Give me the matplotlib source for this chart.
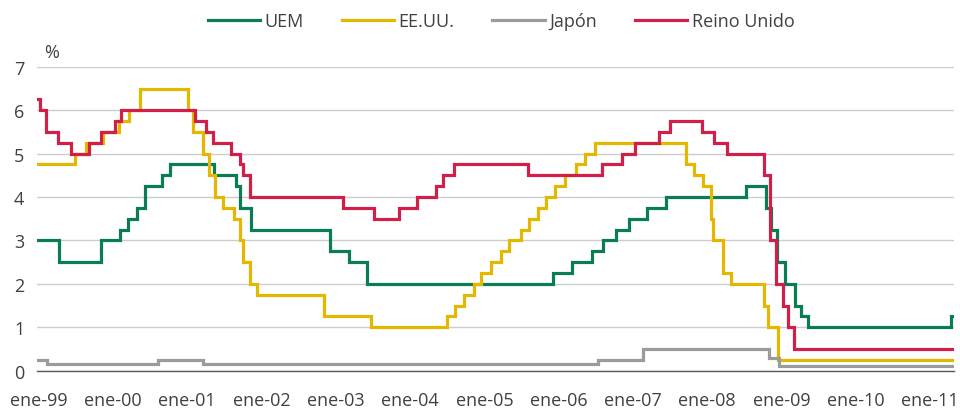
import pandas as pd
import matplotlib
matplotlib.use("Agg")
import matplotlib.pyplot as plt

# policy rate changes (date of change, new rate in %)
uem_dates = ["1998-12-24", "1999-04-09", "1999-11-05", "2000-02-04", "2000-03-17",
             "2000-04-28", "2000-06-09", "2000-09-01", "2000-10-06", "2001-05-11",
             "2001-08-31", "2001-09-18", "2001-11-09", "2002-12-06", "2003-03-07",
             "2003-06-06", "2005-12-06", "2006-03-08", "2006-06-15", "2006-08-09",
             "2006-10-11", "2006-12-13", "2007-03-14", "2007-06-13", "2008-07-09",
             "2008-10-15", "2008-11-12", "2008-12-10", "2009-01-21", "2009-03-11",
             "2009-04-08", "2009-05-13", "2011-04-13"]
uem_rates = [3.0, 2.5, 3.0, 3.25, 3.5, 3.75, 4.25, 4.5, 4.75, 4.5,
             4.25, 3.75, 3.25, 2.75, 2.5, 2.0, 2.25, 2.5, 2.75, 3.0,
             3.25, 3.5, 3.75, 4.0, 4.25, 3.75, 3.25, 2.5, 2.0, 1.5,
             1.25, 1.0, 1.25]

usa_dates = ["1998-12-24", "1999-06-30", "1999-08-24", "1999-11-16", "2000-02-02",
             "2000-03-21", "2000-05-16", "2001-01-03", "2001-01-31", "2001-03-20",
             "2001-04-18", "2001-05-15", "2001-06-27", "2001-08-21", "2001-09-17",
             "2001-10-02", "2001-11-06", "2001-12-11", "2002-11-06", "2003-06-25",
             "2004-06-30", "2004-08-10", "2004-09-21", "2004-11-10", "2004-12-14",
             "2005-02-02", "2005-03-22", "2005-05-03", "2005-06-30", "2005-08-09",
             "2005-09-20", "2005-11-01", "2005-12-13", "2006-01-31", "2006-03-28",
             "2006-05-10", "2006-06-29", "2007-09-18", "2007-10-31", "2007-12-11",
             "2008-01-22", "2008-01-30", "2008-03-18", "2008-04-30", "2008-10-08",
             "2008-10-29", "2008-12-16"]
usa_rates = [4.75, 5.0, 5.25, 5.5, 5.75, 6.0, 6.5, 6.0, 5.5, 5.0,
             4.5, 4.0, 3.75, 3.5, 3.0, 2.5, 2.0, 1.75, 1.25, 1.0,
             1.25, 1.5, 1.75, 2.0, 2.25, 2.5, 2.75, 3.0, 3.25, 3.5,
             3.75, 4.0, 4.25, 4.5, 4.75, 5.0, 5.25, 4.75, 4.5, 4.25,
             3.5, 3.0, 2.25, 2.0, 1.5, 1.0, 0.25]

jpn_dates = ["1998-12-24", "1999-02-12", "2000-08-11", "2001-03-19", "2006-07-14",
             "2007-02-21", "2008-10-31", "2008-12-19"]
jpn_rates = [0.25, 0.15, 0.25, 0.15, 0.25, 0.5, 0.3, 0.1]

ukg_dates = ["1998-12-24", "1999-01-07", "1999-02-04", "1999-04-08", "1999-06-10",
             "1999-09-08", "1999-11-04", "2000-01-13", "2000-02-10", "2001-02-08",
             "2001-04-05", "2001-05-10", "2001-08-02", "2001-09-18", "2001-10-04",
             "2001-11-08", "2003-02-06", "2003-07-10", "2003-11-06", "2004-02-05",
             "2004-05-06", "2004-06-10", "2004-08-05", "2005-08-04", "2006-08-03",
             "2006-11-09", "2007-01-11", "2007-05-10", "2007-07-05", "2007-12-06",
             "2008-02-07", "2008-04-10", "2008-10-08", "2008-11-06", "2008-12-04",
             "2009-01-08", "2009-02-05", "2009-03-05"]
ukg_rates = [6.25, 6.0, 5.5, 5.25, 5.0, 5.25, 5.5, 5.75, 6.0, 5.75,
             5.5, 5.25, 5.0, 4.75, 4.5, 4.0, 3.75, 3.5, 3.75, 4.0,
             4.25, 4.5, 4.75, 4.5, 4.75, 5.0, 5.25, 5.5, 5.75, 5.5,
             5.25, 5.0, 4.5, 3.0, 2.0, 1.5, 1.0, 0.5]

end_date = "2011-04-30"
tick_years = list(range(1999, 2012))
tick_labels = ["ene-99", "ene-00", "ene-01", "ene-02", "ene-03", "ene-04", "ene-05",
               "ene-06", "ene-07", "ene-08", "ene-09", "ene-10", "ene-11"]

plt.rcParams['font.family'] = ['Open Sans', 'DejaVu Sans']
txt = '#404040'

fig = plt.figure(figsize=(9.6, 4.1), dpi=100)
ax = fig.add_axes([37/960, 38.4/410, 917/960, 303.8/410])

series = [("UEM", uem_dates, uem_rates, '#0b7d55'),
          ("EE.UU.", usa_dates, usa_rates, '#e4b800'),
          ("Japón", jpn_dates, jpn_rates, '#9b9b9b'),
          ("Reino Unido", ukg_dates, ukg_rates, '#d01f48')]

for name, d, r, c in series:
    x = pd.to_datetime(d + [end_date])
    y = r + [r[-1]]
    ax.step(x, y, where='post', color=c, lw=2.3, label=name, solid_joinstyle='miter')

ax.set_xlim(pd.Timestamp(uem_dates[0]), pd.Timestamp(end_date))
ax.set_ylim(0, 7)
ax.set_yticks(range(0, 8))
ax.set_xticks([pd.Timestamp(f"{yr}-01-01") for yr in tick_years])
ax.set_xticklabels(tick_labels)
ax.yaxis.grid(True, color='#cccccc', lw=1.0)
ax.set_axisbelow(True)
for s in ['top', 'right', 'left']:
    ax.spines[s].set_visible(False)
ax.spines['bottom'].set_color('#595959')
ax.spines['bottom'].set_linewidth(1.0)
ax.tick_params(axis='both', length=0, labelsize=13, labelcolor=txt)
ax.tick_params(axis='y', pad=9)
ax.tick_params(axis='x', pad=15)

fig.text(44/960, 1 - 53/410, '%', ha='left', va='center', fontsize=13, color=txt)

fig.legend(loc='center', bbox_to_anchor=(501/960, 1 - 22/410), ncol=4, frameon=False,
           fontsize=13, handlelength=2.9, handletextpad=0.25, columnspacing=2.1,
           labelcolor=txt)

fig.savefig("out.png", dpi=100)
